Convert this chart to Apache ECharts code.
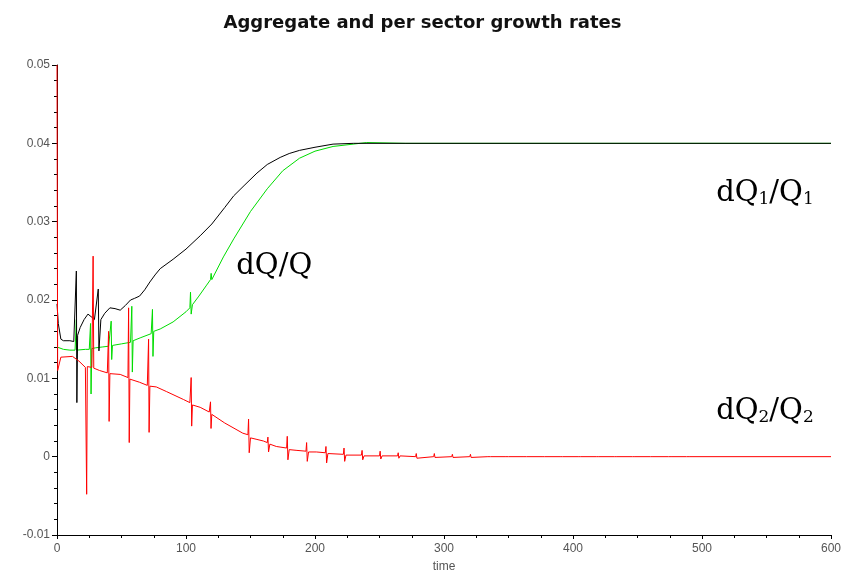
<!DOCTYPE html>
<html>
<head>
<meta charset="utf-8">
<script src="https://cdn.jsdelivr.net/npm/echarts@6/dist/echarts.min.js"></script>
<style>html,body{margin:0;padding:0;background:#fff}#c{width:845px;height:579px}</style>
</head>
<body>
<div id="c"></div>
<script>
// ---- data ----
const titleText = 'Aggregate and per sector growth rates';
const xName = 'time';
const xTicks = [0, 100, 200, 300, 400, 500, 600];
const yTicks = [-0.01, 0, 0.01, 0.02, 0.03, 0.04, 0.05];

// dQ1/Q1 (black)
const blackT = [0, 1, 3, 5, 10, 13, 15, 15.4, 16, 18, 21, 24, 27, 29, 32, 32.5, 34, 37, 41, 45, 49, 53, 57, 60, 64, 68, 72, 76, 80, 90, 100, 111, 120, 130, 137, 145, 155, 163, 173, 180, 188, 200, 214, 230, 600];
const blackV = [0.0195, 0.017, 0.015, 0.0148, 0.0148, 0.0147, 0.0237, 0.0069, 0.0155, 0.0165, 0.0175, 0.0182, 0.0178, 0.0175, 0.0214, 0.0135, 0.0175, 0.0183, 0.019, 0.0189, 0.0187, 0.0193, 0.020, 0.0202, 0.0205, 0.0213, 0.0223, 0.0232, 0.024, 0.0252, 0.0265, 0.0282, 0.0297, 0.0318, 0.0333, 0.0346, 0.0362, 0.0373, 0.0382, 0.0387, 0.0391, 0.0395, 0.0399, 0.040, 0.040];

// dQ/Q (green)
const greenT = [0, 5, 10, 14, 15, 15.3, 16, 22, 25, 26, 26.4, 27, 30, 35, 40, 42, 42.4, 43, 50, 57, 58, 58.4, 59, 65, 73, 74, 74.4, 75, 80, 90, 100, 103, 103.5, 104, 105, 110, 116, 119, 119.5, 120, 129, 137, 150, 163, 175, 188, 200, 214, 240, 270, 600];
const greenV = [0.014, 0.0137, 0.0136, 0.0136, 0.0175, 0.0136, 0.0136, 0.0137, 0.0137, 0.017, 0.008, 0.0138, 0.0139, 0.014, 0.0141, 0.0173, 0.0124, 0.0142, 0.0144, 0.0146, 0.0192, 0.0108, 0.0148, 0.0152, 0.0157, 0.0188, 0.0128, 0.016, 0.0163, 0.0172, 0.0185, 0.019, 0.021, 0.0182, 0.0194, 0.0205, 0.0219, 0.0226, 0.0234, 0.0226, 0.0255, 0.0278, 0.0313, 0.0342, 0.0365, 0.0381, 0.039, 0.0396, 0.0401, 0.040, 0.040];

// dQ2/Q2 (red)
const redT = [0, 0.5, 3, 12, 17, 22, 23, 23.5, 27, 28, 28.5, 33, 39, 40, 40.4, 41, 49, 55, 55.5, 56, 56.5, 64, 70, 71, 71.4, 72, 77, 85, 98, 103, 104, 104.4, 105, 111, 118, 119, 119.4, 120, 130, 144, 148, 148.5, 149, 150, 155, 160, 163, 163.5, 164, 165, 170, 178, 178.5, 179, 180, 186, 193, 193.5, 194, 195, 201, 208, 208.5, 209, 210, 222, 222.5, 223, 224, 236, 236.5, 237, 238, 250, 250.5, 251, 252, 264, 264.5, 265, 266, 278, 278.5, 279, 280, 292, 292.5, 293, 294, 306, 306.5, 307, 308, 320, 320.5, 321, 322, 334, 334.5, 335, 336, 348, 348.5, 349, 350, 362, 362.5, 363, 364, 376, 376.5, 377, 378, 390, 390.5, 391, 392, 404, 404.5, 405, 406, 418, 418.5, 419, 420, 432, 432.5, 433, 434, 446, 446.5, 447, 448, 460, 460.5, 461, 462, 474, 474.5, 475, 476, 488, 488.5, 489, 490, 600];
const redV = [0.050, 0.011, 0.0127, 0.0128, 0.0122, 0.0114, -0.0048, 0.0115, 0.0114, 0.0256, 0.0113, 0.011, 0.0107, 0.016, 0.0045, 0.0106, 0.0105, 0.0101, 0.019, 0.0018, 0.0099, 0.0095, 0.0091, 0.015, 0.0031, 0.009, 0.0089, 0.0083, 0.0073, 0.0069, 0.0101, 0.0039, 0.0066, 0.0063, 0.0057, 0.007, 0.0036, 0.0054, 0.0043, 0.003, 0.0028, 0.0048, 0.0005, 0.0024, 0.0022, 0.002, 0.0018, 0.0025, 0.0006, 0.0016, 0.0013, 0.0011, 0.0026, -0.0004, 0.0009, 0.0008, 0.0007, 0.0018, -0.0006, 0.0006, 0.0006, 0.0005, 0.0013, -0.0008, 0.0004, 0.0003, 0.0011, -0.0006, 0.0002, 0.0002, 0.0008, -0.0004, 0.0001, 0.0001, 0.0007, -0.0003, 0.0001, 0.0001, 0.0005, -0.0002, 0.0001, 0, 0.0004, -0.0002, 0, 0, 0.0004, -0.0001, 0, 0, 0.0003, -0.0001, 0, 0, 0.0003, -0.0001, 0, 0, 0.0002, -0.0001, 0, 0, 0.0002, -0.0001, 0, 0, 0.0002, -0.0001, 0, 0, 0.0002, -0.0001, 0, 0, 0.0002, -0.0001, 0, 0, 0.0002, -0.0001, 0, 0, 0.0002, -0.0001, 0, 0, 0.0001, -0.0001, 0, 0, 0.0001, -0.0001, 0, 0, 0.0001, 0, 0, 0, 0.0001, 0, 0, 0, 0.0001, 0, 0, 0];

// annotations: [t, value, rich text]
const labelT = [139, 511, 511];
const labelV = [0.0243, 0.0336, 0.0058];
const labelTxt = ['dQ/Q', 'dQ{s|1}/Q{s|1}', 'dQ{s|2}/Q{s|2}'];

// ---- chart ----
const pairs = (t, v) => t.map((x, i) => [x, v[i]]);
const chart = echarts.init(document.getElementById('c'), null, {renderer: 'canvas'});
const tickFont = {color: '#555', fontSize: 12, fontFamily: 'Liberation Sans Narrow, Liberation Sans, Arial'};
const lineSeries = (name, t, v, color, z) => ({
  name, type: 'line', data: pairs(t, v), showSymbol: false, symbol: 'none',
  lineStyle: {color, width: 1}, itemStyle: {color}, z, animation: false
});
chart.setOption({
  animation: false,
  backgroundColor: '#fff',
  title: {
    text: titleText, left: 'center', top: 9,
    textStyle: {fontFamily: 'DejaVu Sans', fontWeight: 'bold', fontSize: 18, color: '#111'}
  },
  grid: {left: 57, right: 14, top: 65, bottom: 44, containLabel: false},
  xAxis: {
    type: 'value', min: xTicks[0], max: xTicks[xTicks.length - 1], interval: 100,
    name: xName, nameLocation: 'middle', nameGap: 26,
    nameTextStyle: tickFont,
    axisLine: {onZero: false, lineStyle: {color: '#000', width: 1}},
    axisTick: {show: true, length: 4, lineStyle: {color: '#000'}},
    minorTick: {show: true, splitNumber: 4, length: 3, lineStyle: {color: '#000'}},
    axisLabel: Object.assign({margin: 8}, tickFont),
    splitLine: {show: false}
  },
  yAxis: {
    type: 'value', min: yTicks[0], max: yTicks[yTicks.length - 1], interval: 0.01,
    axisLine: {onZero: false, lineStyle: {color: '#000', width: 1}},
    axisTick: {show: true, length: 5, lineStyle: {color: '#000'}},
    minorTick: {show: true, splitNumber: 5, length: 3, lineStyle: {color: '#000'}},
    axisLabel: Object.assign({margin: 7, formatter: v => (Math.abs(v) < 1e-9 ? '0' : String(+v.toFixed(2)))}, tickFont),
    splitLine: {show: false}
  },
  series: [
    lineSeries('dQ/Q', greenT, greenV, '#00dd00', 2),
    lineSeries('dQ1/Q1', blackT, blackV, '#000000', 3),
    lineSeries('dQ2/Q2', redT, redV, '#ff0000', 4)
  ]
});

const rich = {s: {fontFamily: 'DejaVu Serif', fontSize: 17, color: '#000', verticalAlign: 'bottom', padding: [10, 0, 0, 0]}};
chart.setOption({
  graphic: labelT.map((t, i) => {
    const p = chart.convertToPixel({gridIndex: 0}, [t, labelV[i]]);
    return {
      type: 'text', x: p[0], y: p[1], z: 10,
      style: {text: labelTxt[i], fontFamily: 'DejaVu Serif', fontSize: 29, fill: '#000',
              verticalAlign: 'middle', align: 'left', rich}
    };
  })
});
</script>
</body>
</html>
